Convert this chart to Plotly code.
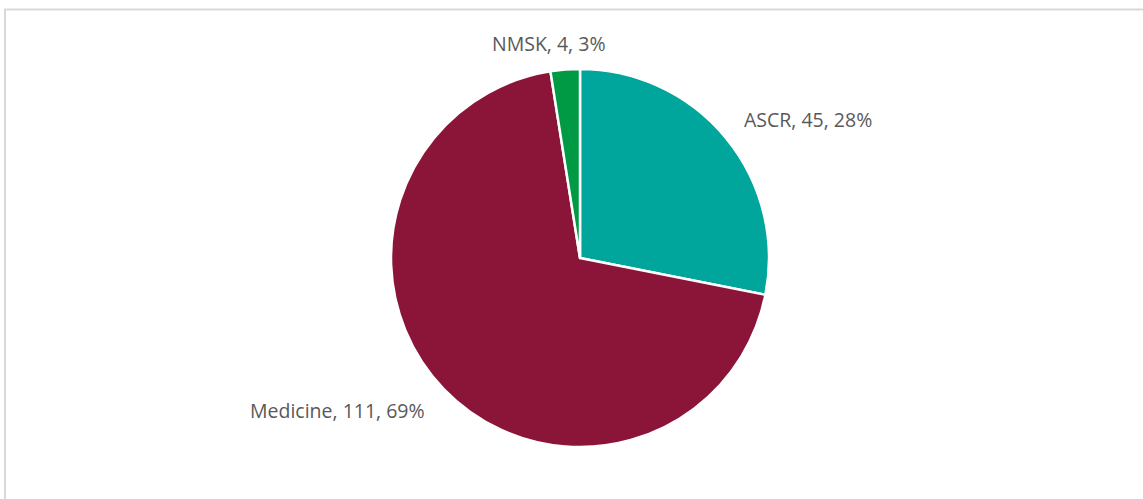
import math
import plotly.graph_objects as go

categories = ["ASCR", "Medicine", "NMSK"]
values = [45, 111, 4]
colors = ["#00A59B", "#8B1538", "#009A44"]

total = sum(values)
label_pos = {"ASCR": (808, 119), "Medicine": (337, 410), "NMSK": (549, 44)}

W, H = 1143, 499
cx, cy, r = 580, 258, 189

fig = go.Figure(go.Pie(
    labels=categories, values=values, sort=False, direction="clockwise", rotation=0,
    marker=dict(colors=colors, line=dict(color="white", width=2.5)),
    textinfo="none", hoverinfo="label+value+percent", showlegend=False,
    domain=dict(x=[(cx - r) / W, (cx + r) / W], y=[1 - (cy + r) / H, 1 - (cy - r) / H]),
))

annotations = []
for c, v in zip(categories, values):
    px, py = label_pos[c]
    pct = math.floor(v / total * 100 + 0.5)
    annotations.append(dict(
        x=px / W, y=1 - py / H, xref="paper", yref="paper", xanchor="center", yanchor="middle",
        text=f"{c}, {v}, {pct}%", showarrow=False,
        font=dict(family="Open Sans", size=19.5, color="#595959"),
    ))

fig.update_layout(
    width=W, height=H, margin=dict(l=0, r=0, t=0, b=0),
    paper_bgcolor="white", plot_bgcolor="white",
    annotations=annotations,
    shapes=[dict(type="rect", xref="paper", yref="paper", x0=5 / W, y0=-0.1, x1=1.1, y1=1 - 9.5 / H,
                 line=dict(color="#d9d9d9", width=2), fillcolor="rgba(0,0,0,0)")],
)

fig.write_html("out.html")
